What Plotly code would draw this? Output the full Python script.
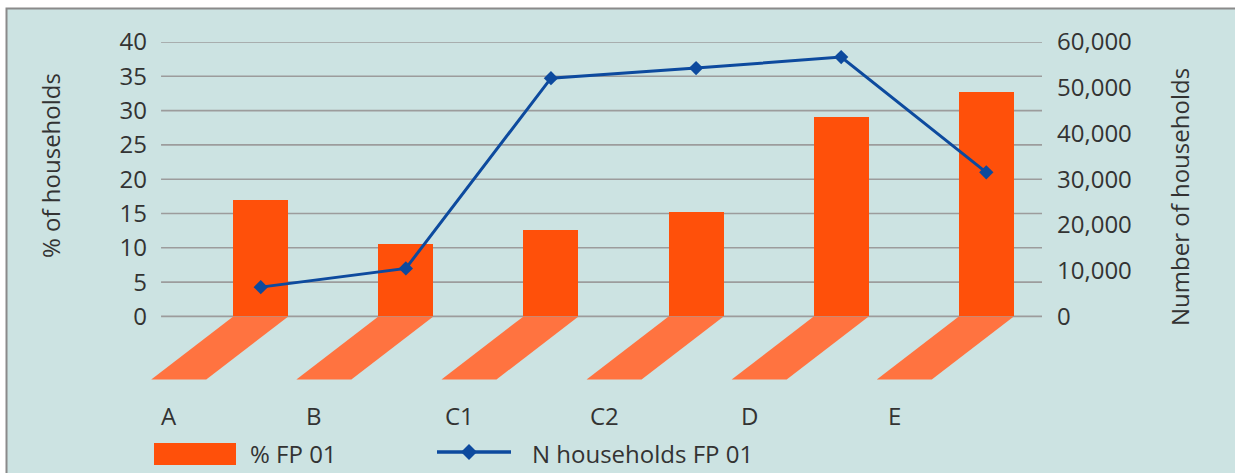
import plotly.graph_objects as go

# ---- data ----
categories = ["A", "B", "C1", "C2", "D", "E"]
pct_fp01 = [17.0, 10.6, 12.6, 15.2, 29.1, 32.7]            # % of households (left axis)
n_households_fp01 = [6400, 10500, 52100, 54300, 56700, 31500]  # number of households (right axis)
left_ticks = [0, 5, 10, 15, 20, 25, 30, 35, 40]
right_ticks = [0, 10000, 20000, 30000, 40000, 50000, 60000]
right_tick_labels = ["0", "10,000", "20,000", "30,000", "40,000", "50,000", "60,000"]

# ---- styling ----
W, H = 1235, 473
L_M, R_M, T_M, B_M = 148, 193, 42, 88
PLOT_W = W - L_M - R_M
PLOT_H = H - T_M - B_M
BG = "#cce3e2"
BAR = "#ff500a"
FLOOR = "#ff7340"
LINE = "#0d4a9e"
TEXT = "#333333"
GRID = "#9c9c9c"
FONT = "Open Sans"
FS = 24

X_RANGE = [-0.777, 5.384]
Y_RANGE = [-10, 40]
Y2_RANGE = [-15000, 60000]
BAR_W = 0.379
FLOOR_DX = 0.565   # horizontal skew of the floor, in category units
FLOOR_DEPTH = 9.2  # depth of the floor, in left-axis units


def px(x):
    return (x - L_M) / PLOT_W


def py(y):
    return (H - B_M - y) / PLOT_H


x_idx = list(range(len(categories)))

fig = go.Figure()

fig.add_trace(go.Bar(
    x=x_idx, y=pct_fp01, width=BAR_W, marker=dict(color=BAR, line=dict(width=0)),
    name="% FP 01", yaxis="y", hoverinfo="skip",
))
fig.add_trace(go.Scatter(
    x=x_idx, y=n_households_fp01, mode="lines+markers", yaxis="y2",
    line=dict(color=LINE, width=3),
    marker=dict(symbol="diamond", size=11, color=LINE),
    name="N households FP 01", hoverinfo="skip",
))

shapes = []
# outer frame
shapes.append(dict(type="rect", xref="paper", yref="paper",
                   x0=px(6.5), y0=py(8.5), x1=px(W + 10), y1=py(H + 10),
                   fillcolor=BG, line=dict(color="#8a8a8a", width=2), layer="below"))
# horizontal grid lines at the left-axis ticks
for v in left_ticks:
    shapes.append(dict(type="line", xref="x", yref="y",
                       x0=-0.687, x1=X_RANGE[1], y0=v, y1=v,
                       line=dict(color=GRID, width=1.6), layer="below"))
# skewed floor under each bar
for i in x_idx:
    a, b = i - BAR_W / 2, i + BAR_W / 2
    path = (f"M {a},0 L {b},0 L {b - FLOOR_DX},{-FLOOR_DEPTH} "
            f"L {a - FLOOR_DX},{-FLOOR_DEPTH} Z")
    shapes.append(dict(type="path", xref="x", yref="y", path=path,
                       fillcolor=FLOOR, line=dict(width=0), layer="below"))

# legend: bar swatch
shapes.append(dict(type="rect", xref="paper", yref="paper",
                   x0=px(154), x1=px(236), y0=py(443), y1=py(465),
                   fillcolor=BAR, line=dict(width=0)))
# legend: line with diamond
shapes.append(dict(type="line", xref="paper", yref="paper",
                   x0=px(437), x1=px(511), y0=py(452), y1=py(452),
                   line=dict(color=LINE, width=3.5)))
dcx, dcy, dr = 469, 452, 8
shapes.append(dict(type="path", xref="paper", yref="paper",
                   path=(f"M {px(dcx - dr)},{py(dcy)} L {px(dcx)},{py(dcy - dr)} "
                         f"L {px(dcx + dr)},{py(dcy)} L {px(dcx)},{py(dcy + dr)} Z"),
                   fillcolor=LINE, line=dict(width=0)))

annotations = []
# category labels under the floors
for i, c in enumerate(categories):
    annotations.append(dict(x=i - 0.63, y=py(415), xref="x", yref="paper", text=c,
                            showarrow=False, font=dict(family=FONT, size=FS, color=TEXT),
                            xanchor="center", yanchor="middle"))
# legend texts
annotations.append(dict(x=px(248), y=py(454), xref="paper", yref="paper", text="% FP 01",
                        showarrow=False, font=dict(family=FONT, size=FS, color=TEXT),
                        xanchor="left", yanchor="middle"))
annotations.append(dict(x=px(530), y=py(454), xref="paper", yref="paper",
                        text="N households FP 01",
                        showarrow=False, font=dict(family=FONT, size=FS, color=TEXT),
                        xanchor="left", yanchor="middle"))
# axis titles
annotations.append(dict(x=px(50), y=py(166), xref="paper", yref="paper",
                        text="% of households", textangle=-90,
                        showarrow=False, font=dict(family=FONT, size=FS, color=TEXT),
                        xanchor="center", yanchor="middle"))
annotations.append(dict(x=px(1179), y=py(197), xref="paper", yref="paper",
                        text="Number of households", textangle=-90,
                        showarrow=False, font=dict(family=FONT, size=FS, color=TEXT),
                        xanchor="center", yanchor="middle"))

fig.update_layout(
    width=W, height=H,
    margin=dict(l=L_M, r=R_M, t=T_M, b=B_M, pad=0),
    paper_bgcolor="white", plot_bgcolor="rgba(0,0,0,0)",
    showlegend=False,
    font=dict(family=FONT, size=FS, color=TEXT),
    xaxis=dict(range=X_RANGE, showticklabels=False, showgrid=False,
               zeroline=False, showline=False, ticks=""),
    yaxis=dict(range=Y_RANGE, tickvals=left_ticks, ticktext=[str(v) for v in left_ticks],
               showgrid=False, zeroline=False, showline=False, ticks="",
               ticklabelstandoff=0, tickfont=dict(family=FONT, size=FS, color=TEXT)),
    yaxis2=dict(range=Y2_RANGE, overlaying="y", side="right", tickvals=right_ticks,
                ticktext=right_tick_labels, showgrid=False, zeroline=False,
                showline=False, ticks="", ticklabelstandoff=14,
                tickfont=dict(family=FONT, size=FS, color=TEXT)),
    shapes=shapes, annotations=annotations,
    bargap=0,
)

fig.write_html("out.html")
